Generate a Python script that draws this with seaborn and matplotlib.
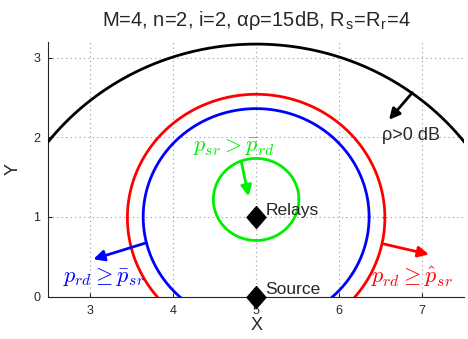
import numpy as np
import pandas as pd
import seaborn as sns
import matplotlib
matplotlib.use("Agg")
import matplotlib.pyplot as plt

# circle regions: name, centre x, centre y, radius, colour
circ_names = ["rho", "red", "blue", "green"]
circ_cx = [5.0, 5.0, 5.0, 5.0]
circ_cy = [0.0, 0.99, 1.0, 1.22]
circ_r = [3.17, 1.55, 1.36, 0.515]
circ_col = ["black", "red", "blue", "#00ee00"]

# nodes
node_x = [5.0, 5.0]
node_y = [1.0, 0.0]
node_lab = ["Relays", "Source"]

sns.set_style("ticks")
plt.rcParams["font.family"] = ["Liberation Sans", "DejaVu Sans"]
plt.rcParams["mathtext.fontset"] = "cm"

fig = plt.figure(figsize=(4.68, 3.39), dpi=100)
ax = fig.add_axes([0.1036, 0.125, 0.8874, 0.752])

t = np.linspace(0, 2 * np.pi, 721)
for nm, cx, cy, r, c in zip(circ_names, circ_cx, circ_cy, circ_r, circ_col):
    df = pd.DataFrame({"x": cx + r * np.cos(t), "y": cy + r * np.sin(t)})
    sns.lineplot(data=df, x="x", y="y", sort=False, estimator=None,
                 color=c, lw=2, ax=ax, zorder=3)

diamond = [(0, 1), (0.87, 0), (0, -1), (-0.87, 0), (0, 1)]
sns.scatterplot(x=node_x, y=node_y, marker=diamond, s=270, color="black",
                edgecolor="black", linewidth=0.5, ax=ax, zorder=5, clip_on=False)
for x, y, lab in zip(node_x, node_y, node_lab):
    ax.text(x + 0.11, y + 0.03, lab, fontsize=12.5, va="baseline", ha="left", zorder=6)

arw = dict(arrowstyle="-|>", lw=2, mutation_scale=16, shrinkA=0, shrinkB=0)
ax.annotate("", xy=(6.6, 2.22), xytext=(6.88, 2.56),
            arrowprops=dict(arw, color="black"))
ax.text(6.52, 1.97, r"ρ>0 dB", fontsize=13, ha="left", va="baseline")

ax.annotate("", xy=(4.91, 1.26), xytext=(4.82, 1.7),
            arrowprops=dict(arw, color="#00ee00"))
ax.text(4.73, 1.87, r"$p_{sr}>\bar{p}_{rd}$", color="#00ee00", fontsize=16,
        ha="center", va="center")

ax.annotate("", xy=(3.04, 0.47), xytext=(3.66, 0.67),
            arrowprops=dict(arw, color="blue"))
ax.text(3.17, 0.25, r"$p_{rd}\geq\bar{p}_{sr}$", color="blue", fontsize=16,
        ha="center", va="center")

ax.annotate("", xy=(7.08, 0.53), xytext=(6.54, 0.66),
            arrowprops=dict(arw, color="red"))
ax.text(6.88, 0.25, r"$p_{rd}\geq\hat{p}_{sr}$", color="red", fontsize=16,
        ha="center", va="center")

ax.set_xlim(2.5, 7.5)
ax.set_ylim(0, 3.2)
ax.set_xticks([3, 4, 5, 6, 7])
ax.set_yticks([0, 1, 2, 3])
ax.grid(True, ls=(0, (1, 3)), color="#999999", lw=0.8)
ax.tick_params(direction="in", length=3, labelsize=9, pad=6)
for s in ["top", "right"]:
    ax.spines[s].set_visible(False)
ax.set_xlabel("X", fontsize=13, labelpad=0)
ax.set_ylabel("Y", fontsize=13, labelpad=8)
ax.set_title("M=4, n=2, i=2, αρ=15dB, R$_\\mathregular{s}$=R$_\\mathregular{r}$=4",
             fontsize=14.5, pad=11)

fig.savefig("out.png", dpi=100)
